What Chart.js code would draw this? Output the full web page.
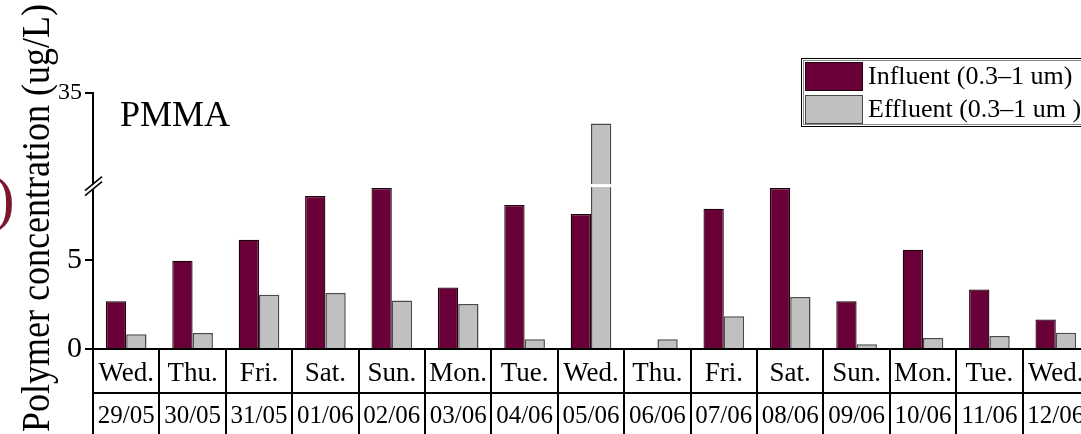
<!DOCTYPE html>
<html>
<head>
<meta charset="utf-8">
<script src="https://cdn.jsdelivr.net/npm/chart.js@4.4.1/dist/chart.umd.min.js"></script>
<style>
  html, body { margin: 0; padding: 0; background: #fff; overflow: hidden; }
  #wrap { width: 1081px; height: 434px; overflow: hidden; position: relative; }
  canvas { display: block; }
</style>
</head>
<body>
<div id="wrap"><canvas id="c" width="1089" height="434"></canvas></div>
<script>
// Sampling days and dates
const days = ['Wed.', 'Thu.', 'Fri.', 'Sat.', 'Sun.', 'Mon.', 'Tue.', 'Wed.', 'Thu.', 'Fri.', 'Sat.', 'Sun.', 'Mon.', 'Tue.', 'Wed.'];
const dates = ['29/05', '30/05', '31/05', '01/06', '02/06', '03/06', '04/06', '05/06', '06/06', '07/06', '08/06', '09/06', '10/06', '11/06', '12/06'];

// PMMA concentrations (ug/L)
const influent = [2.67, 4.95, 6.13, 8.58, 9.02, 3.45, 8.07, 7.57, 0, 7.86, 9.02, 2.67, 5.57, 3.34, 1.66];
const effluent = [0.82, 0.90, 3.04, 3.14, 2.72, 2.52, 0.54, 31.7, 0.54, 1.83, 2.91, 0.26, 0.62, 0.73, 0.91];

const seriesLabels = ['Influent (0.3\u20131 um)', 'Effluent (0.3\u20131 um )'];
const yTickValues = [0, 5, 35];

// Broken y axis: 0..BREAK drawn linearly, UPPER_FROM..Y_TOP squeezed into the space above the break
const BREAK = 9.16, UPPER_FROM = 25, Y_TOP = 35, TOP_POS = 14.35;
function toAxis(v) {
  if (v <= BREAK) return v;
  return BREAK + Math.max(0, v - UPPER_FROM) / (Y_TOP - UPPER_FROM) * (TOP_POS - BREAK);
}

const SERIF = '"Liberation Serif", "Times New Roman", serif';
const INF_COLOR = '#690037';
const EFF_COLOR = '#c0c0c0';

const decor = {
  id: 'decor',
  afterDatasetsDraw(chart) {
    const ctx = chart.ctx;
    const y = chart.scales.y;
    const yb = y.getPixelForValue(BREAK);
    // white cut through bars that run past the axis break
    chart.data.datasets.forEach((ds, di) => {
      const meta = chart.getDatasetMeta(di);
      ds.raw.forEach((v, i) => {
        if (v > BREAK) {
          const bar = meta.data[i];
          ctx.save();
          ctx.fillStyle = '#fff';
          ctx.fillRect(bar.x - bar.width / 2 - 1, yb - 1.5, bar.width + 2, 3);
          ctx.restore();
        }
      });
    });
  },
  afterDraw(chart) {
    const ctx = chart.ctx;
    const x = chart.scales.x;
    const y = chart.scales.y;
    const area = chart.chartArea;
    ctx.save();

    // table row separator
    ctx.strokeStyle = '#000';
    ctx.lineWidth = 2;
    ctx.beginPath();
    ctx.moveTo(area.left, 393);
    ctx.lineTo(chart.width, 393);
    ctx.stroke();

    // day / date cells
    ctx.fillStyle = '#000';
    ctx.textAlign = 'center';
    ctx.textBaseline = 'alphabetic';
    days.forEach((d, i) => {
      const px = x.getPixelForValue(i);
      ctx.font = '27px ' + SERIF;
      ctx.fillText(d, px, 381);
      ctx.font = '25px ' + SERIF;
      ctx.fillText(dates[i], px, 423);
    });

    // axis break marks
    const yb = y.getPixelForValue(BREAK);
    const ax = area.left;
    ctx.fillStyle = '#fff';
    ctx.beginPath();
    ctx.moveTo(ax - 9, yb + 5.5);
    ctx.lineTo(ax + 9, yb - 9.5);
    ctx.lineTo(ax + 9, yb - 3.5);
    ctx.lineTo(ax - 9, yb + 11.5);
    ctx.closePath();
    ctx.fill();
    ctx.strokeStyle = '#000';
    ctx.lineWidth = 1.6;
    [0, 5].forEach(off => {
      ctx.beginPath();
      ctx.moveTo(ax - 8, yb + 5 + off);
      ctx.lineTo(ax + 9, yb - 9 + off);
      ctx.stroke();
    });

    // panel label
    ctx.fillStyle = '#000';
    ctx.textAlign = 'left';
    ctx.textBaseline = 'alphabetic';
    ctx.font = '36px ' + SERIF;
    ctx.fillText('PMMA', 120, 126);

    // y axis title
    ctx.save();
    ctx.translate(49, 218);
    ctx.rotate(-Math.PI / 2);
    ctx.scale(0.9, 1);
    ctx.textAlign = 'center';
    ctx.textBaseline = 'alphabetic';
    ctx.font = '40px ' + SERIF;
    ctx.fillText('Polymer concentration (ug/L)', 0, 0);
    ctx.restore();

    // panel marker
    ctx.fillStyle = '#7d1530';
    ctx.font = '62px ' + SERIF;
    ctx.textAlign = 'left';
    ctx.textBaseline = 'middle';
    ctx.fillText(')', -6, 203);

    // legend
    ctx.strokeStyle = '#000';
    ctx.lineWidth = 1;
    ctx.strokeRect(801.5, 58.5, 320, 68);
    ctx.strokeStyle = '#888';
    ctx.strokeRect(803.5, 60.5, 316, 64);
    chart.data.datasets.forEach((ds, i) => {
      const top = 62 + i * 33;
      ctx.fillStyle = ds.backgroundColor;
      ctx.fillRect(805, top, 58, 29);
      ctx.strokeStyle = ds.borderColor;
      ctx.lineWidth = 1;
      ctx.strokeRect(805.5, top + 0.5, 57, 28);
      ctx.fillStyle = '#000';
      ctx.font = '26px ' + SERIF;
      ctx.textAlign = 'left';
      ctx.textBaseline = 'middle';
      ctx.fillText(ds.label, 868, top + 15);
    });

    ctx.restore();
  }
};

new Chart(document.getElementById('c'), {
  type: 'bar',
  data: {
    labels: dates,
    datasets: [
      {
        label: seriesLabels[0],
        raw: influent,
        data: influent.map(toAxis),
        backgroundColor: INF_COLOR,
        borderColor: '#1e000e',
        borderWidth: 1.3
      },
      {
        label: seriesLabels[1],
        raw: effluent,
        data: effluent.map(toAxis),
        backgroundColor: EFF_COLOR,
        borderColor: '#4a4a4a',
        borderWidth: 1.5
      }
    ]
  },
  options: {
    responsive: false,
    animation: false,
    devicePixelRatio: 1,
    layout: { padding: { top: 93, left: 0, right: 0, bottom: 0 } },
    plugins: { legend: { display: false }, tooltip: { enabled: false } },
    datasets: { bar: { categoryPercentage: 0.612, barPercentage: 1.0 } },
    scales: {
      x: {
        offset: true,
        grid: {
          offset: true,
          drawOnChartArea: false,
          drawTicks: true,
          tickLength: 85,
          color: '#000',
          lineWidth: 2
        },
        border: { display: true, color: '#000', width: 2 },
        ticks: { display: false },
        afterFit(scale) { scale.height = 85; }
      },
      y: {
        min: 0,
        max: TOP_POS,
        afterBuildTicks(scale) {
          scale.ticks = yTickValues.map(v => ({ value: toAxis(v) }));
        },
        grid: {
          drawOnChartArea: false,
          drawTicks: true,
          tickLength: 8,
          color: '#000',
          lineWidth: 2
        },
        border: { display: true, color: '#000', width: 2 },
        ticks: {
          color: '#000',
          font: (c) => ({ family: SERIF, size: c.index === 2 ? 24 : 30 }),
          padding: 3,
          callback: (val, idx) => yTickValues[idx]
        },
        afterFit(scale) { scale.width = 93; }
      }
    }
  },
  plugins: [decor]
});
</script>
</body>
</html>
